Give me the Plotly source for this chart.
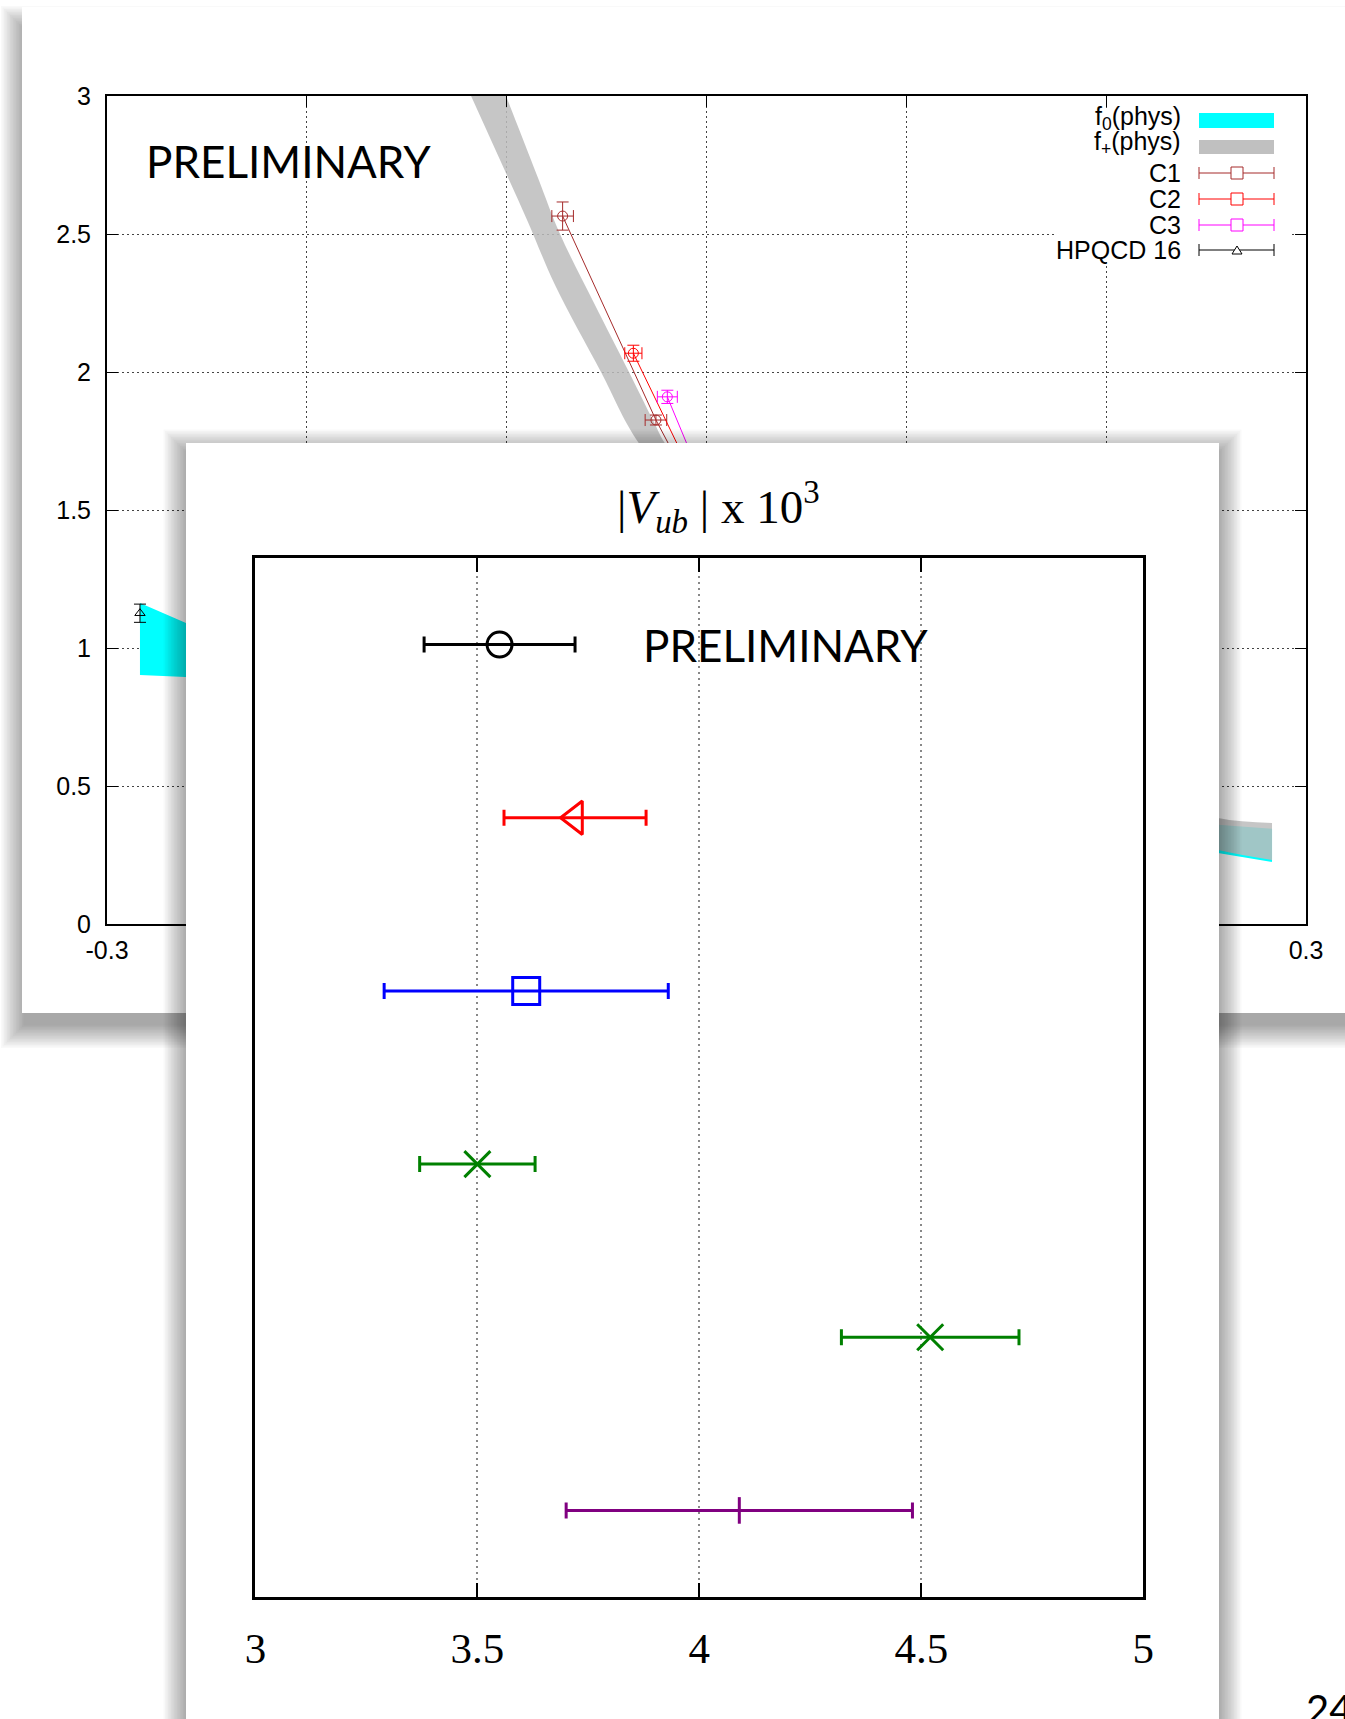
import plotly.graph_objects as go

W, H = 1345, 1719


def px(x):
    return x / W


def py(y):
    return 1 - y / H


# ---------------- form factors vs z (upper panel) ----------------
# f0(phys) band: z nodes with lower / upper edges
f0_z = [-0.2835, -0.2605, -0.20, -0.10, 0.0, 0.10, 0.20, 0.256, 0.283]
f0_lo = [0.902, 0.895, 0.83, 0.69, 0.56, 0.45, 0.33, 0.257, 0.225]
f0_hi = [1.163, 1.091, 0.96, 0.78, 0.62, 0.50, 0.40, 0.36, 0.345]

# f+(phys) band: upper and lower edges
fp_hi_z = [-0.1113, -0.1003, -0.0843, -0.0733, -0.0563, -0.0388, -0.0268, -0.0193,
           0.05, 0.10, 0.15, 0.20, 0.256, 0.283]
fp_hi_f = [3.203, 3.0, 2.703, 2.5, 2.250, 2.0, 1.826, 1.725,
           1.15, 0.86, 0.66, 0.51, 0.384, 0.366]
fp_lo_z = [-0.1304, -0.1178, -0.1033, -0.0893, -0.0758, -0.0528, -0.0333,
           0.05, 0.10, 0.15, 0.20, 0.256, 0.283]
fp_lo_f = [3.203, 3.0, 2.768, 2.543, 2.315, 2.0, 1.736,
           1.0, 0.72, 0.53, 0.38, 0.268, 0.232]

# lattice data points
c1_z = [-0.0720, -0.0253, 0.0011]
c1_f = [2.565, 1.826, 1.464]
c1_dz = [0.0054, 0.0054, 0.0054]
c1_df = [0.051, 0.018, 0.015]

c2_z = [-0.0366, 0.0037]
c2_f = [2.068, 1.464]
c2_dz = [0.0043, 0.0043]
c2_df = [0.029, 0.02]

c3_z = [-0.0196, 0.0060]
c3_f = [1.910, 1.464]
c3_dz = [0.0050, 0.0050]
c3_df = [0.024, 0.02]

hpqcd_z = [-0.2835]
hpqcd_f = [1.126]
hpqcd_df = [0.033]

top_xticks = [-0.3, -0.2, -0.1, 0.0, 0.1, 0.2, 0.3]
top_xlabels = ["-0.3", "-0.2", "-0.1", "0", "0.1", "0.2", "0.3"]
top_yticks = [0, 0.5, 1, 1.5, 2, 2.5, 3]
top_ylabels = ["0", "0.5", "1", "1.5", "2", "2.5", "3"]

# ---------------- |Vub| x 10^3 (lower panel) ----------------
vub_row = [6, 5, 4, 3, 2, 1]
vub_val = [3.55, 3.72, 3.61, 3.50, 4.52, 4.09]
vub_err = [0.17, 0.16, 0.32, 0.13, 0.20, 0.39]
vub_color = ["#000000", "#ff0000", "#0000ff", "#008000", "#008000", "#800080"]
vub_symbol = ["circle-open", "triangle-left-open", "square-open", "x-thin-open", "x-thin-open", "line-ns-open"]
vub_size = [25, 29, 27, 26, 26, 19]
vub_xticks = [3, 3.5, 4, 4.5, 5]
vub_xlabels = ["3", "3.5", "4", "4.5", "5"]

SANS = "Liberation Sans, Arial, sans-serif"
SERIF = "Liberation Serif, Times New Roman, serif"
SLIDE = "Lato, Open Sans, sans-serif"

fig = go.Figure()

# ---- upper panel traces (x / y) ----
fig.add_trace(go.Scatter(
    x=f0_z + f0_z[::-1], y=f0_hi + f0_lo[::-1], mode="lines", fill="toself",
    fillcolor="#00ffff", line=dict(width=0), hoverinfo="skip", showlegend=False,
    xaxis="x", yaxis="y"))
# f+ band: smooth lower edge, then upper edge filled down to it
fig.add_trace(go.Scatter(
    x=fp_lo_z, y=fp_lo_f, mode="lines", line=dict(width=0, shape="spline", smoothing=1),
    hoverinfo="skip", showlegend=False, xaxis="x", yaxis="y"))
fig.add_trace(go.Scatter(
    x=fp_hi_z, y=fp_hi_f, mode="lines", line=dict(width=0, shape="spline", smoothing=1),
    fill="tonexty", fillcolor="rgba(188,188,188,0.85)", hoverinfo="skip",
    showlegend=False, xaxis="x", yaxis="y"))

for zs, fs, dzs, dfs, col in [(c1_z, c1_f, c1_dz, c1_df, "#a52a2a"),
                              (c2_z, c2_f, c2_dz, c2_df, "#ff0000"),
                              (c3_z, c3_f, c3_dz, c3_df, "#ff00ff")]:
    fig.add_trace(go.Scatter(
        x=zs, y=fs, mode="lines+markers",
        line=dict(color=col, width=1),
        marker=dict(symbol="circle-open", size=10, color=col, line=dict(width=1, color=col)),
        error_x=dict(type="data", array=dzs, color=col, thickness=1, width=6),
        error_y=dict(type="data", array=dfs, color=col, thickness=1, width=6),
        showlegend=False, xaxis="x", yaxis="y"))

fig.add_trace(go.Scatter(
    x=hpqcd_z, y=hpqcd_f, mode="markers",
    marker=dict(symbol="triangle-up-open", size=9, color="black", line=dict(width=1, color="black")),
    error_y=dict(type="data", array=hpqcd_df, color="black", thickness=1, width=6),
    showlegend=False, xaxis="x", yaxis="y"))

# ---- lower card with its drop shadow (x2 / y2, pixel frame) ----
card_l, card_t, card_r, card_b = 186, 443, 1219, 1760
for k in range(17, 0, -1):
    e = 1.5 * k
    x0, y0, x1, y1 = card_l + 3 - e, card_t + 12 - e, card_r - 3 + e, card_b + e
    fig.add_trace(go.Scatter(
        x=[x0, x1, x1, x0, x0], y=[y0, y0, y1, y1, y0], mode="lines", fill="toself",
        fillcolor="rgba(0,0,0,0.025)", line=dict(width=0), hoverinfo="skip",
        showlegend=False, xaxis="x2", yaxis="y2"))
fig.add_trace(go.Scatter(
    x=[card_l, card_r, card_r, card_l, card_l], y=[card_t, card_t, card_b, card_b, card_t],
    mode="lines", fill="toself", fillcolor="white", line=dict(width=0),
    hoverinfo="skip", showlegend=False, xaxis="x2", yaxis="y2"))

# ---- lower panel traces (x3 / y3) ----
for v, r, e, c, s, sz in zip(vub_val, vub_row, vub_err, vub_color, vub_symbol, vub_size):
    fig.add_trace(go.Scatter(
        x=[v], y=[r], mode="markers",
        marker=dict(symbol=s, size=sz, color=c, line=dict(width=3, color=c)),
        error_x=dict(type="data", array=[e], color=c, thickness=3, width=8),
        showlegend=False, xaxis="x3", yaxis="y3"))

# ---- upper card and its shadow (paper shapes, below everything) ----
shapes = []
for k in range(16, 0, -1):
    e = 1.5 * k
    shapes.append(dict(type="rect", xref="paper", yref="paper", layer="below",
                       x0=px(25 - e), x1=px(1400 + e), y0=py(1024 + e), y1=py(30 - e),
                       fillcolor="rgba(0,0,0,0.024)", line=dict(width=0)))
shapes.append(dict(type="rect", xref="paper", yref="paper", layer="below",
                   x0=px(22), x1=px(1400), y0=py(1013), y1=py(7),
                   fillcolor="white", line=dict(width=0)))

# ---- hand-drawn key of the upper panel (opaque box hides the grid) ----
shapes.append(dict(type="rect", xref="paper", yref="paper", x0=px(1055), x1=px(1290),
                   y0=py(262), y1=py(108), fillcolor="white", line=dict(width=0)))
key_x0, key_x1, key_xm = 1199, 1274, 1237
shapes.append(dict(type="rect", xref="paper", yref="paper", x0=px(key_x0), x1=px(key_x1),
                   y0=py(128), y1=py(113), fillcolor="#00ffff", line=dict(width=0)))
shapes.append(dict(type="rect", xref="paper", yref="paper", x0=px(key_x0), x1=px(key_x1),
                   y0=py(154), y1=py(140), fillcolor="#c0c0c0", line=dict(width=0)))
key_rows = [(173, "#a52a2a", "sq"), (199, "#ff0000", "sq"), (225, "#ff00ff", "sq"), (250, "#000000", "tri")]
for yc, col, kind in key_rows:
    shapes.append(dict(type="line", xref="paper", yref="paper", x0=px(key_x0), x1=px(key_x1),
                       y0=py(yc), y1=py(yc), line=dict(color=col, width=1)))
    for xe in (key_x0, key_x1):
        shapes.append(dict(type="line", xref="paper", yref="paper", x0=px(xe), x1=px(xe),
                           y0=py(yc - 6), y1=py(yc + 6), line=dict(color=col, width=1)))
    if kind == "sq":
        shapes.append(dict(type="rect", xref="paper", yref="paper", x0=px(key_xm - 6), x1=px(key_xm + 6),
                           y0=py(yc + 6), y1=py(yc - 6), fillcolor="white", line=dict(color=col, width=1)))
    else:
        shapes.append(dict(type="path", xref="paper", yref="paper",
                           path=f"M {px(key_xm - 5)} {py(yc + 4)} L {px(key_xm + 5)} {py(yc + 4)} L {px(key_xm)} {py(yc - 4)} Z",
                           fillcolor="white", line=dict(color=col, width=1)))

annotations = []
key_labels = [(118, "f<sub>0</sub>(phys)"), (143, "f<sub>+</sub>(phys)"), (173, "C1"),
              (199, "C2"), (225, "C3"), (250, "HPQCD 16")]
for yc, txt in key_labels:
    annotations.append(dict(x=px(1183), y=py(yc), xref="paper", yref="paper", text=txt,
                            showarrow=False, xanchor="right", yanchor="middle",
                            font=dict(family=SANS, size=25, color="black")))

annotations.append(dict(x=px(144), y=py(161), xref="paper", yref="paper", text="PRELIMINARY",
                        showarrow=False, xanchor="left", yanchor="middle",
                        font=dict(family=SLIDE, size=44, color="black")))
annotations.append(dict(x=px(641), y=py(645), xref="paper", yref="paper", text="PRELIMINARY",
                        showarrow=False, xanchor="left", yanchor="middle",
                        font=dict(family=SLIDE, size=44, color="black")))
annotations.append(dict(x=px(718), y=py(507), xref="paper", yref="paper",
                        text="|<i>V</i><sub><i>ub</i></sub> | x 10<sup>3</sup>",
                        showarrow=False, xanchor="center", yanchor="middle",
                        font=dict(family=SERIF, size=47, color="black")))
annotations.append(dict(x=px(1304), y=py(1683), xref="paper", yref="paper", text="24",
                        showarrow=False, xanchor="left", yanchor="top",
                        font=dict(family=SLIDE, size=40, color="black")))

fig.update_layout(
    template="none",
    width=W, height=H,
    margin=dict(l=0, r=0, t=0, b=0, pad=0, autoexpand=False),
    paper_bgcolor="white", plot_bgcolor="rgba(0,0,0,0)",
    showlegend=False,
    shapes=shapes, annotations=annotations,
    xaxis=dict(domain=[px(107), px(1306)], range=[-0.3, 0.3], anchor="y", automargin=False,
               tickvals=top_xticks, ticktext=top_xlabels,
               ticks="inside", ticklen=11, tickwidth=1, tickcolor="black",
               showline=True, linewidth=2, linecolor="black", mirror="ticks",
               showgrid=True, gridcolor="#444", gridwidth=1, griddash="2px,3px",
               zeroline=False, ticklabelstandoff=3,
               tickfont=dict(family=SANS, size=25, color="black")),
    yaxis=dict(domain=[py(924), py(96)], range=[0, 3], anchor="x", automargin=False,
               tickvals=top_yticks, ticktext=top_ylabels,
               ticks="inside", ticklen=11, tickwidth=1, tickcolor="black",
               showline=True, linewidth=2, linecolor="black", mirror="ticks",
               showgrid=True, gridcolor="#444", gridwidth=1, griddash="2px,3px",
               zeroline=False, ticklabelstandoff=9,
               tickfont=dict(family=SANS, size=25, color="black")),
    xaxis2=dict(domain=[0, 1], range=[0, W], anchor="y2", visible=False, automargin=False),
    yaxis2=dict(domain=[0, 1], range=[H, 0], anchor="x2", visible=False, automargin=False),
    xaxis3=dict(domain=[px(255.4), px(1143.3)], range=[3, 5], anchor="y3", automargin=False,
                tickvals=vub_xticks, ticktext=vub_xlabels,
                ticks="inside", ticklen=14, tickwidth=1.5, tickcolor="black",
                showline=True, linewidth=3, linecolor="black", mirror="ticks",
                showgrid=True, gridcolor="#888", gridwidth=1.5, griddash="2px,4px",
                zeroline=False, ticklabelstandoff=11,
                tickfont=dict(family=SERIF, size=43, color="black")),
    yaxis3=dict(domain=[py(1597), py(558)], range=[0.5, 6.5], anchor="x3", automargin=False,
                showticklabels=False, ticks="", showgrid=False, zeroline=False,
                showline=True, linewidth=3, linecolor="black", mirror=True),
)

fig.write_html("out.html")
